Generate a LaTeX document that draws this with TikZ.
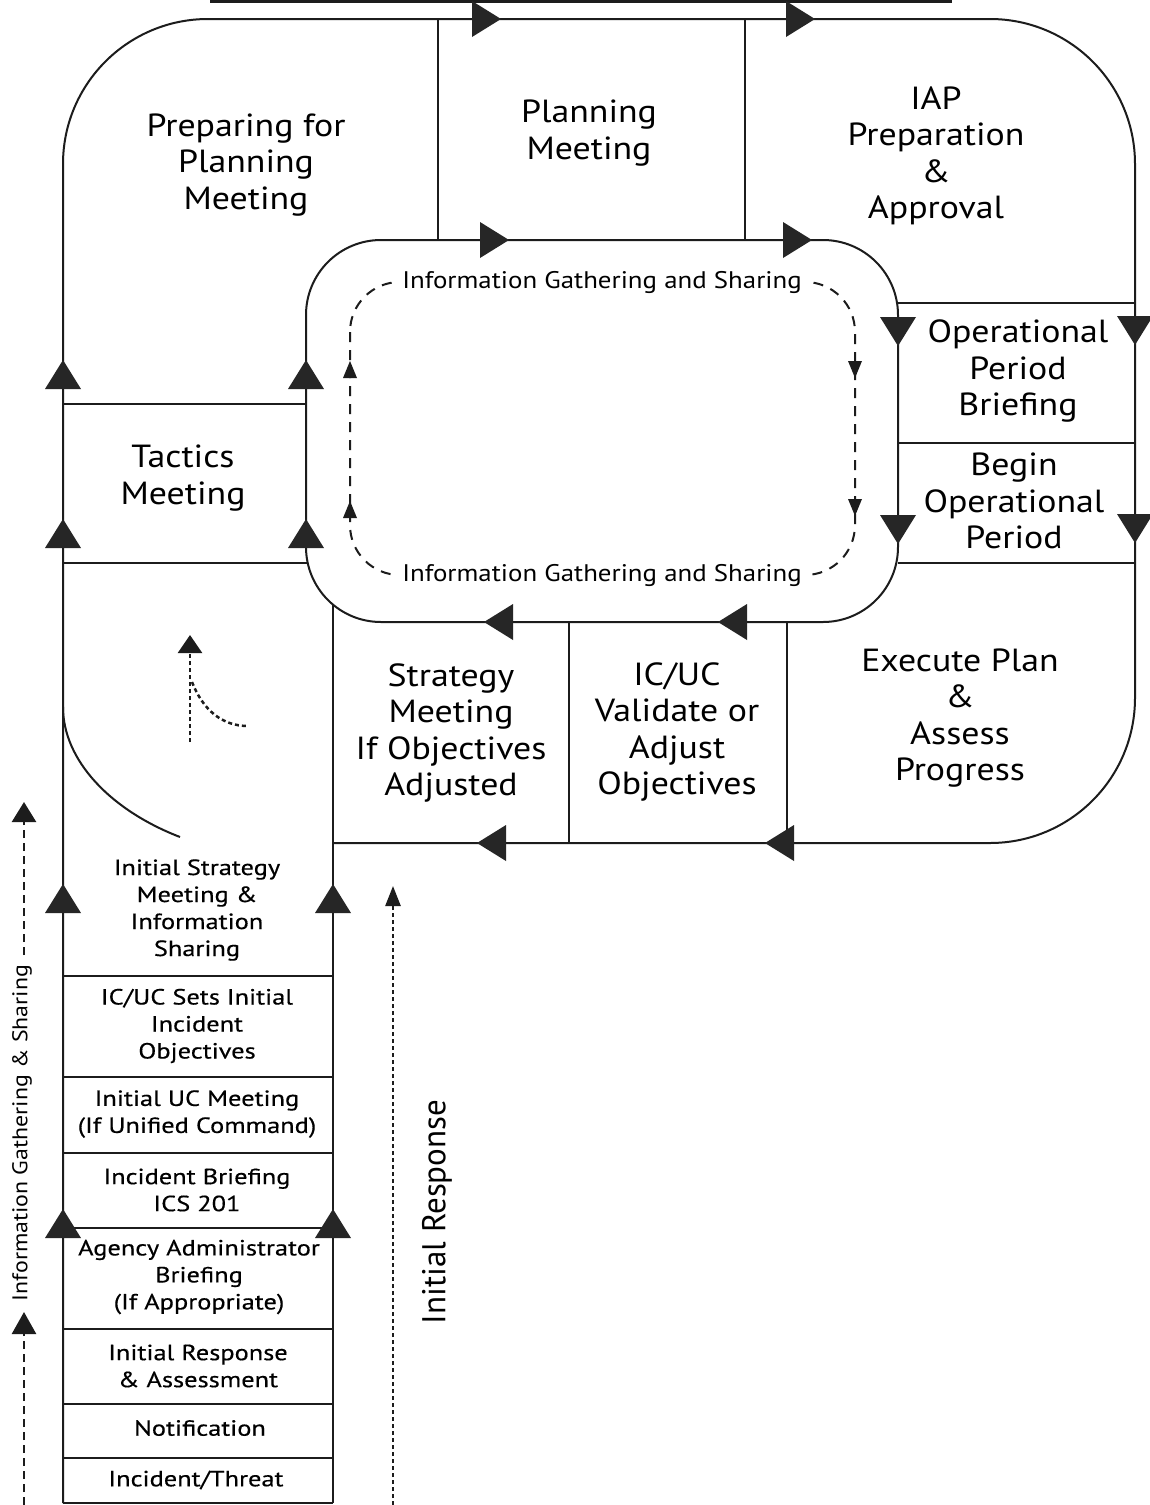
\documentclass[tikz,border=0pt]{standalone}
\usepackage{fontspec}
\setmainfont{PT Sans}
\newfontfamily\stagesans[FakeStretch=1.12]{PT Sans}
\newfontfamily\widesans[FakeStretch=1.2, FakeBold=0.4]{PT Sans}
\usetikzlibrary{arrows.meta}

\definecolor{ink}{HTML}{1C1C1C}
\definecolor{trifill}{HTML}{262626}

% big filled direction marker sitting on a flow line
\newcommand\flowmark[3]{\fill[trifill, shift={(#1,#2)}, rotate=#3] (15,0) -- (-14,18) -- (-14,-18) -- cycle;}
% small marker on the dashed information loop
\newcommand\loopmark[3]{\fill[ink, shift={(#1,#2)}, rotate=#3] (9,0) -- (-8,7) -- (-8,-7) -- cycle;}

\begin{document}
\begin{tikzpicture}[x=1pt, y=-1pt, line join=round,
  flow/.style={draw=ink, line width=2pt},
  infoloop/.style={draw=ink, line width=2pt, dash pattern=on 10pt off 8pt},
  sidedash/.style={draw=ink, line width=2.5pt, dash pattern=on 8pt off 5pt},
  finedash/.style={draw=ink, line width=2.5pt, dash pattern=on 4pt off 3pt},
  stage/.style={font=\stagesans\fontsize{32}{36.5}\selectfont, align=center, inner sep=0pt},
  colstage/.style={font=\widesans\fontsize{22}{27}\selectfont, align=center, inner sep=0pt},
  infolabel/.style={font=\stagesans\fontsize{24}{26}\selectfont, fill=white, inner xsep=5pt, inner ysep=2pt},
  sidelabel/.style={font=\stagesans\fontsize{21.3}{24}\selectfont, fill=white, inner sep=4pt, rotate=90},
  phaselabel/.style={font=\fontsize{33}{36}\selectfont, inner sep=0pt, rotate=90},
]
\useasboundingbox (0,0) rectangle (1149,1505);
\fill[white] (0,0) rectangle (1149,1505);

% ---- outer cycle ----
\draw[line width=3pt, draw=ink] (210,1.5) -- (952,1.5);
\draw[flow, rounded corners=145pt] (63,1503) -- (63,19) -- (1135,19) -- (1135,843) -- (333,843);

% ---- inner cycle ----
\draw[flow, rounded corners=75pt] (306,240) rectangle (898,622);

% dividers between the stages
\draw[flow] (438,19) -- (438,240);
\draw[flow] (745,19) -- (745,240);
\draw[flow] (898,303) -- (1135,303);
\draw[flow] (898,443) -- (1135,443);
\draw[flow] (898,563) -- (1135,563);
\draw[flow] (569,622) -- (569,843);
\draw[flow] (787,622) -- (787,843);
\draw[flow] (63,404) -- (306,404);
\draw[flow] (63,563) -- (308,563);

% ---- initial response column ----
\draw[flow] (333,604) -- (333,1503);
\foreach \yy in {976,1077,1153,1228,1329,1404,1458,1503}
  \draw[flow] (63,\yy) -- (333,\yy);
\draw[flow] (63,707) .. controls (63,760) and (110,810) .. (180,837);

% ---- direction markers ----
\flowmark{486}{19}{0}    \flowmark{800}{19}{0}
\flowmark{494}{240}{0}   \flowmark{797}{240}{0}
\flowmark{898}{331}{-90} \flowmark{1135}{330}{-90}
\flowmark{898}{529}{-90} \flowmark{1135}{528}{-90}
\flowmark{499}{622}{180} \flowmark{733}{622}{180}
\flowmark{492}{843}{180} \flowmark{780}{843}{180}
\flowmark{63}{375}{90}   \flowmark{306}{375}{90}
\flowmark{63}{534}{90}   \flowmark{306}{534}{90}
\flowmark{63}{899}{90}   \flowmark{333}{899}{90}
\flowmark{63}{1224}{90}  \flowmark{333}{1224}{90}

% ---- information gathering loop ----
\draw[infoloop, rounded corners=50pt] (350,282) rectangle (855,575);
\loopmark{350}{370}{90} \loopmark{350}{510}{90}
\loopmark{855}{369}{-90} \loopmark{855}{507}{-90}
\node[infolabel] (igsTop) at (602,282) {Information Gathering and Sharing};
\node[infolabel] (igsBot) at (602,575) {Information Gathering and Sharing};

% ---- stage labels ----
\node[stage] (prep)  at (246,165) {Preparing for\\Planning\\Meeting};
\node[stage] (plan)  at (589,133) {Planning\\Meeting};
\node[stage] (iap)   at (936,156) {IAP\\Preparation\\\&\\Approval};
\node[stage] (opb)   at (1018,371) {Operational\\Period\\Briefing};
\node[stage] (bop)   at (1014,501) {Begin\\Operational\\Period};
\node[stage] (tac)   at (183,478) {Tactics\\Meeting};
\node[stage] (strat) at (451,733) {Strategy\\Meeting\\If Objectives\\Adjusted};
\node[stage] (valid) at (677,732) {IC/UC\\Validate or\\Adjust\\Objectives};
\node[stage] (exec)  at (960,718) {Execute Plan\\\&\\Assess\\Progress};

% ---- initial response steps ----
\node[colstage] (ism)    at (197,910)  {Initial Strategy\\Meeting \&\\Information\\Sharing};
\node[colstage] (obj)    at (197,1026) {IC/UC Sets Initial\\Incident\\Objectives};
\node[colstage] (ucm)    at (197,1114) {Initial UC Meeting\\(If Unified Command)};
\node[colstage] (ibr)    at (197,1190) {Incident Briefing\\ICS 201};
\node[colstage] (aab)    at (199,1277) {Agency Administrator\\Briefing\\(If Appropriate)};
\node[colstage] (ira)    at (198,1366) {Initial Response\\\& Assessment};
\node[colstage] (notif)  at (200,1428) {Notification};
\node[colstage] (threat) at (196,1480) {Incident/Threat};

% ---- side arrows ----
\coordinate (sideBot) at (24,1505);
\coordinate (sideMidLow) at (24,1312);
\coordinate (sideMidHigh) at (24,955);
\coordinate (sideTop) at (24,802);
\draw[sidedash, -{Triangle[length=22pt,width=24pt]}] (sideBot) -- (sideMidLow);
\draw[sidedash, -{Triangle[length=20pt,width=24pt]}] (sideMidHigh) -- (sideTop);
\node[sidelabel] (sideText) at (22,1133) {Information Gathering \& Sharing};

\coordinate (irBot) at (393,1505);
\coordinate (irTop) at (393,886);
\draw[finedash, -{Triangle[length=20pt,width=15pt]}] (irBot) -- (irTop);
\node[phaselabel] (irText) at (437,1212) {Initial Response};

\coordinate (turnBot) at (190,742);
\coordinate (turnTop) at (190,635);
\draw[finedash, -{Triangle[length=18pt,width=24pt]}] (turnBot) -- (turnTop);
\draw[finedash] (192,682) .. controls (203,710) and (222,726) .. (248,726);
\end{tikzpicture}
\end{document}
